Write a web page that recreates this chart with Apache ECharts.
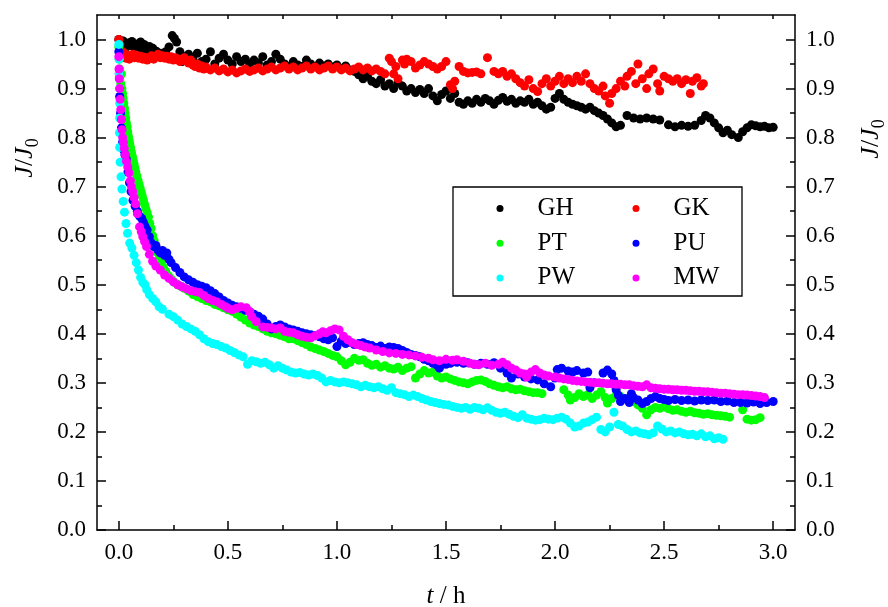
<!DOCTYPE html>
<html><head><meta charset="utf-8">
<script src="https://cdn.jsdelivr.net/npm/echarts@6/dist/echarts.min.js"></script>
<style>html,body{margin:0;padding:0;background:#fff}#c{width:888px;height:607px}</style>
</head><body><div id="c"></div>
<script>
const seriesNames = ['GH','GK','PT','PU','PW','MW'];
const seriesColors = ['#000000','#ff0000','#00ff00','#0000ff','#00ffff','#ff00ff'];

const GH = [[0,1.0],[0.005,0.995],[0.012,0.99],[0.02,0.997],[0.028,0.992],[0.036,0.985],[0.044,0.993],[0.052,0.988],[0.06,0.996],[0.068,0.99],[0.076,0.982],[0.084,0.991],[0.092,0.987],[0.1,0.995],[0.108,0.98],[0.116,0.99],[0.124,0.984],[0.132,0.978],[0.14,0.986],[0.148,0.975],[0.156,0.982],[0.164,0.97],[0.172,0.976],[0.18,0.968],[0.19,0.972],[0.2,0.965],[0.215,0.975],[0.23,0.985],[0.245,1.008],[0.255,1.002],[0.265,0.995],[0.28,0.975],[0.29,0.955],[0.3,0.965],[0.32,0.97],[0.34,0.96],[0.36,0.972],[0.38,0.955],[0.4,0.96],[0.42,0.975],[0.44,0.95],[0.46,0.962],[0.48,0.97],[0.5,0.958],[0.52,0.95],[0.54,0.965],[0.56,0.955],[0.58,0.96],[0.6,0.95],[0.62,0.958],[0.64,0.952],[0.66,0.965],[0.68,0.948],[0.7,0.955],[0.72,0.97],[0.74,0.96],[0.76,0.95],[0.78,0.945],[0.8,0.955],[0.82,0.948],[0.84,0.945],[0.86,0.958],[0.88,0.95],[0.9,0.945],[0.92,0.952],[0.94,0.946],[0.96,0.95],[0.98,0.944],[1.0,0.948],[1.02,0.94],[1.04,0.946],[1.06,0.938],[1.08,0.935],[1.1,0.928],[1.12,0.92],[1.14,0.925],[1.16,0.915],[1.18,0.91],[1.2,0.918],[1.22,0.905],[1.24,0.91],[1.26,0.9],[1.28,0.912],[1.3,0.905],[1.32,0.895],[1.34,0.9],[1.36,0.892],[1.38,0.898],[1.4,0.89],[1.42,0.9],[1.44,0.885],[1.46,0.875],[1.48,0.888],[1.5,0.895],[1.52,0.88],[1.54,0.89],[1.56,0.872],[1.58,0.868],[1.6,0.875],[1.62,0.87],[1.64,0.878],[1.66,0.872],[1.68,0.88],[1.7,0.875],[1.72,0.868],[1.74,0.876],[1.76,0.882],[1.78,0.874],[1.8,0.878],[1.82,0.87],[1.84,0.875],[1.86,0.872],[1.88,0.878],[1.9,0.868],[1.92,0.872],[1.94,0.865],[1.96,0.858],[1.98,0.862],[2.0,0.88],[2.02,0.89],[2.04,0.878],[2.06,0.872],[2.08,0.868],[2.1,0.865],[2.12,0.862],[2.14,0.858],[2.16,0.862],[2.18,0.855],[2.2,0.85],[2.22,0.845],[2.24,0.838],[2.26,0.83],[2.28,0.822],[2.3,0.825],[2.33,0.845],[2.36,0.84],[2.39,0.838],[2.42,0.84],[2.45,0.838],[2.48,0.836],[2.52,0.826],[2.55,0.822],[2.58,0.825],[2.61,0.823],[2.64,0.825],[2.67,0.835],[2.69,0.845],[2.71,0.84],[2.73,0.83],[2.75,0.82],[2.77,0.81],[2.79,0.815],[2.81,0.806],[2.84,0.8],[2.86,0.812],[2.88,0.82],[2.9,0.826],[2.92,0.824],[2.94,0.822],[2.96,0.823],[2.98,0.82],[3.0,0.821]];

const GK = [[0,1.0],[0.004,0.99],[0.008,0.978],[0.012,0.97],[0.016,0.975],[0.02,0.965],[0.026,0.972],[0.032,0.962],[0.04,0.968],[0.048,0.96],[0.056,0.966],[0.064,0.97],[0.072,0.963],[0.08,0.968],[0.09,0.962],[0.1,0.966],[0.11,0.96],[0.12,0.964],[0.13,0.958],[0.14,0.962],[0.15,0.967],[0.16,0.96],[0.17,0.965],[0.18,0.97],[0.19,0.963],[0.2,0.967],[0.21,0.962],[0.22,0.966],[0.23,0.96],[0.24,0.965],[0.25,0.958],[0.26,0.963],[0.27,0.96],[0.28,0.955],[0.29,0.96],[0.3,0.963],[0.31,0.956],[0.32,0.952],[0.33,0.958],[0.34,0.948],[0.35,0.945],[0.36,0.95],[0.37,0.942],[0.38,0.946],[0.39,0.94],[0.4,0.944],[0.42,0.938],[0.44,0.942],[0.46,0.936],[0.48,0.94],[0.5,0.934],[0.52,0.938],[0.54,0.932],[0.56,0.936],[0.58,0.94],[0.6,0.935],[0.62,0.938],[0.64,0.942],[0.66,0.936],[0.68,0.94],[0.7,0.944],[0.72,0.938],[0.74,0.942],[0.76,0.946],[0.78,0.94],[0.8,0.944],[0.82,0.938],[0.84,0.942],[0.86,0.946],[0.88,0.94],[0.9,0.944],[0.92,0.938],[0.94,0.942],[0.96,0.946],[0.98,0.94],[1.0,0.944],[1.02,0.938],[1.04,0.942],[1.06,0.936],[1.08,0.94],[1.1,0.944],[1.12,0.938],[1.14,0.942],[1.16,0.936],[1.18,0.94],[1.2,0.935],[1.22,0.93],[1.24,0.962],[1.25,0.955],[1.26,0.93],[1.27,0.945],[1.28,0.92],[1.3,0.958],[1.31,0.95],[1.32,0.96],[1.34,0.955],[1.36,0.942],[1.38,0.948],[1.4,0.955],[1.42,0.95],[1.44,0.945],[1.46,0.94],[1.48,0.945],[1.5,0.955],[1.52,0.908],[1.53,0.9],[1.54,0.915],[1.56,0.945],[1.58,0.935],[1.6,0.932],[1.62,0.933],[1.64,0.934],[1.66,0.93],[1.69,0.963],[1.72,0.935],[1.74,0.93],[1.76,0.935],[1.78,0.925],[1.8,0.93],[1.82,0.92],[1.84,0.912],[1.86,0.905],[1.88,0.918],[1.9,0.9],[1.92,0.894],[1.94,0.91],[1.96,0.92],[1.98,0.905],[2.0,0.915],[2.02,0.925],[2.04,0.91],[2.06,0.92],[2.08,0.912],[2.1,0.925],[2.12,0.915],[2.14,0.93],[2.16,0.91],[2.18,0.9],[2.2,0.895],[2.22,0.905],[2.23,0.885],[2.25,0.87],[2.26,0.89],[2.28,0.9],[2.3,0.915],[2.32,0.905],[2.33,0.925],[2.35,0.935],[2.37,0.91],[2.38,0.95],[2.4,0.92],[2.42,0.9],[2.43,0.93],[2.45,0.94],[2.47,0.91],[2.48,0.895],[2.5,0.925],[2.52,0.92],[2.54,0.915],[2.56,0.92],[2.58,0.91],[2.6,0.918],[2.62,0.89],[2.63,0.915],[2.65,0.922],[2.67,0.905],[2.68,0.91]];

const PT = [[0,0.985],[0.002,0.96],[0.004,0.94],[0.006,0.925],[0.009,0.91],[0.012,0.93],[0.014,0.9],[0.017,0.89],[0.02,0.88],[0.023,0.87],[0.026,0.86],[0.029,0.85],[0.032,0.84],[0.035,0.83],[0.038,0.822],[0.041,0.812],[0.044,0.803],[0.047,0.795],[0.05,0.788],[0.054,0.78],[0.058,0.77],[0.062,0.762],[0.066,0.754],[0.07,0.746],[0.074,0.738],[0.078,0.73],[0.083,0.722],[0.088,0.713],[0.093,0.705],[0.098,0.697],[0.103,0.688],[0.108,0.68],[0.113,0.672],[0.118,0.664],[0.124,0.655],[0.13,0.647],[0.136,0.638],[0.142,0.625],[0.148,0.615],[0.155,0.6],[0.162,0.59],[0.17,0.575],[0.178,0.565],[0.186,0.555],[0.195,0.545],[0.205,0.535],[0.215,0.527],[0.228,0.518],[0.24,0.512],[0.255,0.505],[0.27,0.5],[0.285,0.497],[0.3,0.493],[0.32,0.487],[0.34,0.48],[0.36,0.476],[0.38,0.472],[0.4,0.468],[0.42,0.465],[0.44,0.46],[0.46,0.457],[0.48,0.453],[0.5,0.449],[0.52,0.446],[0.54,0.44],[0.56,0.434],[0.58,0.428],[0.6,0.422],[0.62,0.418],[0.64,0.415],[0.66,0.41],[0.68,0.405],[0.7,0.402],[0.72,0.4],[0.74,0.397],[0.76,0.394],[0.78,0.39],[0.8,0.39],[0.82,0.386],[0.84,0.382],[0.86,0.378],[0.88,0.373],[0.9,0.37],[0.92,0.367],[0.94,0.364],[0.96,0.36],[0.98,0.356],[1.0,0.353],[1.02,0.345],[1.04,0.337],[1.06,0.342],[1.08,0.35],[1.1,0.346],[1.12,0.347],[1.14,0.34],[1.16,0.336],[1.18,0.338],[1.2,0.332],[1.22,0.335],[1.24,0.33],[1.26,0.328],[1.28,0.332],[1.3,0.325],[1.32,0.33],[1.34,0.333],[1.36,0.31],[1.38,0.318],[1.4,0.325],[1.42,0.32],[1.44,0.322],[1.46,0.314],[1.48,0.31],[1.5,0.312],[1.52,0.308],[1.54,0.305],[1.56,0.302],[1.58,0.3],[1.6,0.298],[1.62,0.302],[1.64,0.305],[1.66,0.306],[1.68,0.303],[1.7,0.298],[1.72,0.295],[1.74,0.292],[1.76,0.29],[1.78,0.292],[1.8,0.288],[1.82,0.286],[1.84,0.287],[1.86,0.284],[1.88,0.282],[1.9,0.28],[1.92,0.28],[1.94,0.278],[2.04,0.286],[2.06,0.275],[2.07,0.265],[2.09,0.27],[2.11,0.278],[2.13,0.272],[2.15,0.276],[2.17,0.268],[2.19,0.275],[2.21,0.282],[2.23,0.27],[2.24,0.259],[2.26,0.268],[2.28,0.275],[2.3,0.272],[2.32,0.268],[2.34,0.265],[2.36,0.262],[2.38,0.255],[2.4,0.248],[2.42,0.235],[2.44,0.245],[2.46,0.25],[2.48,0.248],[2.5,0.251],[2.52,0.247],[2.54,0.244],[2.56,0.245],[2.58,0.242],[2.6,0.24],[2.62,0.242],[2.64,0.239],[2.66,0.238],[2.68,0.236],[2.7,0.237],[2.72,0.235],[2.74,0.234],[2.76,0.233],[2.78,0.232],[2.8,0.23],[2.86,0.245],[2.88,0.226],[2.9,0.224],[2.92,0.225],[2.94,0.229]];

const PU = [[0,0.975],[0.002,0.93],[0.004,0.884],[0.008,0.85],[0.012,0.82],[0.017,0.79],[0.022,0.775],[0.028,0.765],[0.035,0.755],[0.042,0.73],[0.049,0.708],[0.056,0.69],[0.065,0.672],[0.075,0.66],[0.085,0.65],[0.095,0.64],[0.105,0.635],[0.112,0.628],[0.12,0.62],[0.13,0.612],[0.14,0.598],[0.15,0.585],[0.16,0.578],[0.17,0.58],[0.18,0.57],[0.19,0.565],[0.2,0.57],[0.21,0.56],[0.22,0.565],[0.23,0.552],[0.24,0.545],[0.26,0.535],[0.28,0.525],[0.3,0.516],[0.32,0.51],[0.34,0.505],[0.36,0.5],[0.38,0.497],[0.4,0.494],[0.42,0.488],[0.44,0.482],[0.46,0.475],[0.48,0.468],[0.5,0.463],[0.52,0.458],[0.54,0.455],[0.56,0.452],[0.58,0.448],[0.6,0.445],[0.62,0.44],[0.64,0.436],[0.66,0.43],[0.68,0.42],[0.7,0.41],[0.72,0.415],[0.74,0.418],[0.76,0.414],[0.78,0.41],[0.8,0.408],[0.82,0.405],[0.84,0.402],[0.86,0.4],[0.88,0.398],[0.9,0.396],[0.92,0.394],[0.94,0.39],[0.96,0.388],[0.98,0.392],[1.0,0.374],[1.02,0.385],[1.04,0.38],[1.06,0.383],[1.08,0.378],[1.1,0.38],[1.12,0.382],[1.14,0.378],[1.16,0.376],[1.18,0.372],[1.2,0.375],[1.22,0.37],[1.24,0.373],[1.26,0.372],[1.28,0.37],[1.3,0.366],[1.32,0.362],[1.34,0.358],[1.36,0.356],[1.38,0.353],[1.4,0.348],[1.42,0.345],[1.44,0.34],[1.46,0.335],[1.47,0.33],[1.5,0.338],[1.52,0.34],[1.55,0.342],[1.58,0.34],[1.6,0.341],[1.63,0.338],[1.66,0.34],[1.69,0.338],[1.72,0.341],[1.75,0.33],[1.78,0.32],[1.8,0.31],[1.83,0.318],[1.86,0.312],[1.89,0.308],[1.92,0.306],[1.95,0.298],[1.98,0.292],[2.0,0.31],[2.01,0.327],[2.03,0.33],[2.06,0.324],[2.08,0.322],[2.1,0.325],[2.13,0.32],[2.15,0.322],[2.16,0.29],[2.18,0.3],[2.22,0.32],[2.24,0.326],[2.26,0.318],[2.27,0.305],[2.28,0.286],[2.29,0.275],[2.3,0.262],[2.32,0.268],[2.34,0.26],[2.35,0.278],[2.36,0.27],[2.38,0.265],[2.4,0.258],[2.42,0.262],[2.44,0.268],[2.46,0.272],[2.48,0.268],[2.5,0.266],[2.52,0.264],[2.55,0.266],[2.58,0.264],[2.61,0.265],[2.64,0.263],[2.67,0.265],[2.7,0.264],[2.73,0.265],[2.76,0.262],[2.79,0.263],[2.82,0.26],[2.85,0.26],[2.88,0.259],[2.91,0.261],[2.94,0.258],[2.97,0.26],[3.0,0.262]];

const PW = [[0,0.99],[0.001,0.96],[0.002,0.93],[0.003,0.9],[0.004,0.87],[0.004,0.84],[0.003,0.81],[0.004,0.78],[0.006,0.75],[0.01,0.72],[0.014,0.695],[0.02,0.67],[0.026,0.648],[0.033,0.625],[0.04,0.605],[0.05,0.585],[0.06,0.575],[0.07,0.56],[0.08,0.545],[0.09,0.53],[0.1,0.515],[0.11,0.505],[0.12,0.5],[0.128,0.49],[0.14,0.48],[0.155,0.472],[0.17,0.465],[0.185,0.455],[0.2,0.45],[0.23,0.44],[0.25,0.435],[0.27,0.428],[0.29,0.42],[0.31,0.415],[0.33,0.41],[0.35,0.405],[0.37,0.398],[0.39,0.39],[0.41,0.384],[0.43,0.38],[0.45,0.378],[0.47,0.374],[0.49,0.371],[0.51,0.366],[0.53,0.362],[0.55,0.357],[0.57,0.353],[0.59,0.338],[0.61,0.345],[0.63,0.343],[0.65,0.34],[0.67,0.342],[0.69,0.337],[0.71,0.33],[0.73,0.335],[0.75,0.33],[0.77,0.326],[0.79,0.322],[0.81,0.32],[0.83,0.321],[0.85,0.318],[0.87,0.316],[0.89,0.318],[0.91,0.315],[0.93,0.31],[0.95,0.302],[0.97,0.305],[0.99,0.302],[1.01,0.3],[1.03,0.302],[1.05,0.3],[1.07,0.298],[1.09,0.296],[1.11,0.292],[1.13,0.295],[1.15,0.292],[1.17,0.29],[1.19,0.292],[1.21,0.288],[1.23,0.285],[1.25,0.29],[1.27,0.28],[1.29,0.278],[1.31,0.276],[1.33,0.272],[1.35,0.275],[1.37,0.272],[1.39,0.268],[1.41,0.265],[1.43,0.262],[1.45,0.26],[1.47,0.258],[1.49,0.256],[1.51,0.255],[1.53,0.252],[1.55,0.25],[1.57,0.248],[1.59,0.25],[1.61,0.246],[1.63,0.25],[1.65,0.248],[1.67,0.245],[1.69,0.249],[1.71,0.244],[1.73,0.24],[1.75,0.238],[1.77,0.24],[1.79,0.236],[1.81,0.232],[1.83,0.229],[1.85,0.235],[1.87,0.228],[1.89,0.226],[1.91,0.224],[1.93,0.225],[1.95,0.228],[1.97,0.226],[1.99,0.225],[2.01,0.228],[2.03,0.23],[2.05,0.226],[2.07,0.218],[2.09,0.21],[2.11,0.212],[2.13,0.218],[2.15,0.22],[2.17,0.225],[2.19,0.23],[2.21,0.205],[2.23,0.2],[2.25,0.21],[2.27,0.24],[2.29,0.215],[2.31,0.212],[2.33,0.205],[2.35,0.2],[2.37,0.202],[2.39,0.198],[2.41,0.196],[2.43,0.194],[2.45,0.198],[2.47,0.212],[2.49,0.206],[2.51,0.2],[2.53,0.202],[2.55,0.198],[2.57,0.2],[2.59,0.196],[2.61,0.194],[2.63,0.195],[2.65,0.192],[2.67,0.196],[2.69,0.19],[2.71,0.192],[2.73,0.186],[2.75,0.188],[2.77,0.185]];

const MW = [[0,0.965],[0.001,0.94],[0.002,0.92],[0.004,0.9],[0.006,0.878],[0.009,0.857],[0.012,0.837],[0.015,0.816],[0.018,0.8],[0.021,0.79],[0.025,0.778],[0.03,0.765],[0.035,0.752],[0.041,0.74],[0.047,0.728],[0.053,0.712],[0.058,0.7],[0.064,0.69],[0.07,0.678],[0.077,0.665],[0.085,0.645],[0.095,0.618],[0.103,0.608],[0.11,0.598],[0.118,0.588],[0.127,0.578],[0.14,0.562],[0.155,0.548],[0.17,0.538],[0.19,0.53],[0.21,0.52],[0.23,0.513],[0.25,0.506],[0.27,0.5],[0.29,0.496],[0.31,0.492],[0.33,0.488],[0.35,0.486],[0.37,0.484],[0.39,0.478],[0.41,0.472],[0.43,0.468],[0.45,0.465],[0.47,0.46],[0.49,0.455],[0.5,0.452],[0.52,0.449],[0.54,0.452],[0.56,0.455],[0.585,0.453],[0.6,0.445],[0.61,0.435],[0.63,0.425],[0.66,0.414],[0.68,0.413],[0.7,0.412],[0.72,0.41],[0.74,0.412],[0.76,0.405],[0.78,0.403],[0.8,0.402],[0.82,0.398],[0.84,0.395],[0.86,0.393],[0.88,0.392],[0.9,0.396],[0.92,0.4],[0.935,0.404],[0.95,0.402],[0.97,0.406],[0.99,0.41],[1.01,0.408],[1.03,0.395],[1.05,0.388],[1.07,0.382],[1.09,0.378],[1.11,0.376],[1.13,0.373],[1.15,0.371],[1.18,0.367],[1.21,0.364],[1.24,0.361],[1.27,0.36],[1.3,0.358],[1.33,0.357],[1.36,0.355],[1.39,0.352],[1.42,0.35],[1.44,0.347],[1.47,0.345],[1.5,0.348],[1.53,0.346],[1.55,0.347],[1.58,0.344],[1.61,0.34],[1.63,0.338],[1.65,0.337],[1.68,0.34],[1.71,0.336],[1.74,0.338],[1.76,0.342],[1.78,0.337],[1.8,0.33],[1.82,0.326],[1.84,0.32],[1.86,0.318],[1.87,0.312],[1.89,0.322],[1.91,0.327],[1.93,0.32],[1.95,0.316],[1.97,0.314],[2.0,0.312],[2.02,0.31],[2.04,0.308],[2.06,0.307],[2.08,0.305],[2.1,0.304],[2.12,0.303],[2.14,0.302],[2.16,0.301],[2.18,0.3],[2.2,0.3],[2.22,0.299],[2.24,0.298],[2.26,0.298],[2.28,0.297],[2.3,0.297],[2.32,0.296],[2.34,0.296],[2.36,0.294],[2.38,0.293],[2.4,0.292],[2.42,0.296],[2.44,0.29],[2.46,0.289],[2.48,0.288],[2.5,0.287],[2.52,0.287],[2.54,0.286],[2.56,0.286],[2.58,0.285],[2.6,0.285],[2.62,0.284],[2.64,0.283],[2.66,0.283],[2.68,0.282],[2.7,0.282],[2.72,0.281],[2.74,0.28],[2.76,0.279],[2.78,0.279],[2.8,0.278],[2.82,0.277],[2.84,0.276],[2.86,0.276],[2.88,0.275],[2.9,0.274],[2.92,0.273],[2.94,0.272],[2.96,0.27]];

const xMajorTicks = [0, 0.5, 1.0, 1.5, 2.0, 2.5, 3.0];
const xMinorTicks = [0.25, 0.75, 1.25, 1.75, 2.25, 2.75];
const xTopTicks = [0, 0.25, 0.5, 0.75, 1.0, 1.25, 1.5, 1.75, 2.0, 2.25, 2.5, 2.75, 3.0];
const yMajorTicks = [0, 0.1, 0.2, 0.3, 0.4, 0.5, 0.6, 0.7, 0.8, 0.9, 1.0];
const yMinorTicks = [0.05, 0.15, 0.25, 0.35, 0.45, 0.55, 0.65, 0.75, 0.85, 0.95];
const xRange = [-0.1, 3.1];
const yRange = [0, 1.05];

const dataSets = [GH, GK, PT, PU, PW, MW];
const FF = "'Liberation Serif', 'Times New Roman', serif";

// axis carrying the frame line and (optionally) the labels, no ticks
function lineAxis(pos, range, labelTicks) {
  return {
    type: 'value', position: pos, min: range[0], max: range[1],
    axisLine: {show: true, onZero: false, lineStyle: {color: '#000', width: 1.5}},
    splitLine: {show: false},
    axisTick: {show: false},
    axisLabel: labelTicks ? {show: true, customValues: labelTicks, margin: 11, color: '#000', fontFamily: FF, fontSize: 23, formatter: v => v.toFixed(1)} : {show: false}
  };
}
// axis carrying only inward ticks
function tickAxis(pos, range, ticks, len) {
  return {
    type: 'value', position: pos, min: range[0], max: range[1],
    axisLine: {show: false, onZero: false},
    splitLine: {show: false},
    axisTick: {show: true, inside: true, length: len, customValues: ticks, lineStyle: {color: '#000', width: 1.5}},
    axisLabel: {show: false}
  };
}

const xAxes = [
  lineAxis('bottom', xRange, xMajorTicks),
  tickAxis('bottom', xRange, xMajorTicks, 9),
  tickAxis('bottom', xRange, xMinorTicks, 5),
  lineAxis('top', xRange, null),
  tickAxis('top', xRange, xTopTicks, 4)
];
xAxes[0].name = '{i|t} / h';
xAxes[0].nameLocation = 'middle';
xAxes[0].nameGap = 54;
xAxes[0].nameTextStyle = {fontFamily: FF, fontSize: 25, color: '#000', rich: {i: {fontFamily: FF, fontSize: 25, fontStyle: 'italic', color: '#000'}}};

const yAxes = [
  lineAxis('left', yRange, yMajorTicks),
  tickAxis('left', yRange, yMajorTicks, 9),
  tickAxis('left', yRange, yMinorTicks, 5),
  lineAxis('right', yRange, yMajorTicks),
  tickAxis('right', yRange, yMajorTicks, 9),
  tickAxis('right', yRange, yMinorTicks, 5)
];

const nameRich = {
  i: {fontFamily: FF, fontSize: 26, fontStyle: 'italic', lineHeight: 34, verticalAlign: 'middle', fill: '#000'},
  r: {fontFamily: FF, fontSize: 26, lineHeight: 34, verticalAlign: 'middle', fill: '#000'},
  s: {fontFamily: FF, fontSize: 18, lineHeight: 18, verticalAlign: 'bottom', fill: '#000'}
};
function yName(x, y) {
  return {type: 'text', x: x, y: y, rotation: Math.PI / 2, z: 50,
    style: {text: '{i|J}{r|/}{i|J}{s|0}', rich: nameRich, align: 'center', verticalAlign: 'middle', fill: '#000'}};
}

const legendText = {fontFamily: FF, fontSize: 25, color: '#000', lineHeight: 24, padding: [0, 0, 0, 29]};
function legendCol(names, left) {
  return {data: names, orient: 'vertical', left: left, top: 196, itemWidth: 7, itemHeight: 7, itemGap: 9.7,
    padding: 0, icon: 'circle', selectedMode: false, textStyle: legendText};
}

const chart = echarts.init(document.getElementById('c'), null, {renderer: 'canvas'});
chart.setOption({
  animation: false,
  backgroundColor: '#fff',
  grid: {left: 97, right: 93, top: 15, bottom: 77, containLabel: false, outerBoundsMode: 'none'},
  xAxis: xAxes,
  yAxis: yAxes,
  legend: [legendCol(['GH', 'PT', 'PW'], 496.5), legendCol(['GK', 'PU', 'MW'], 632.5)],
  graphic: [
    {type: 'rect', shape: {x: 453, y: 187, width: 289, height: 109}, style: {fill: 'none', stroke: '#000', lineWidth: 1.3}, z: 100},
    yName(25, 158),
    yName(871, 139)
  ],
  series: seriesNames.map((n, i) => ({
    name: n, type: 'scatter', data: dataSets[i], symbol: 'circle', symbolSize: 9,
    xAxisIndex: 0, yAxisIndex: 0, itemStyle: {color: seriesColors[i], opacity: 1},
    emphasis: {disabled: true}, z: 2 + i
  }))
});
</script></body></html>
